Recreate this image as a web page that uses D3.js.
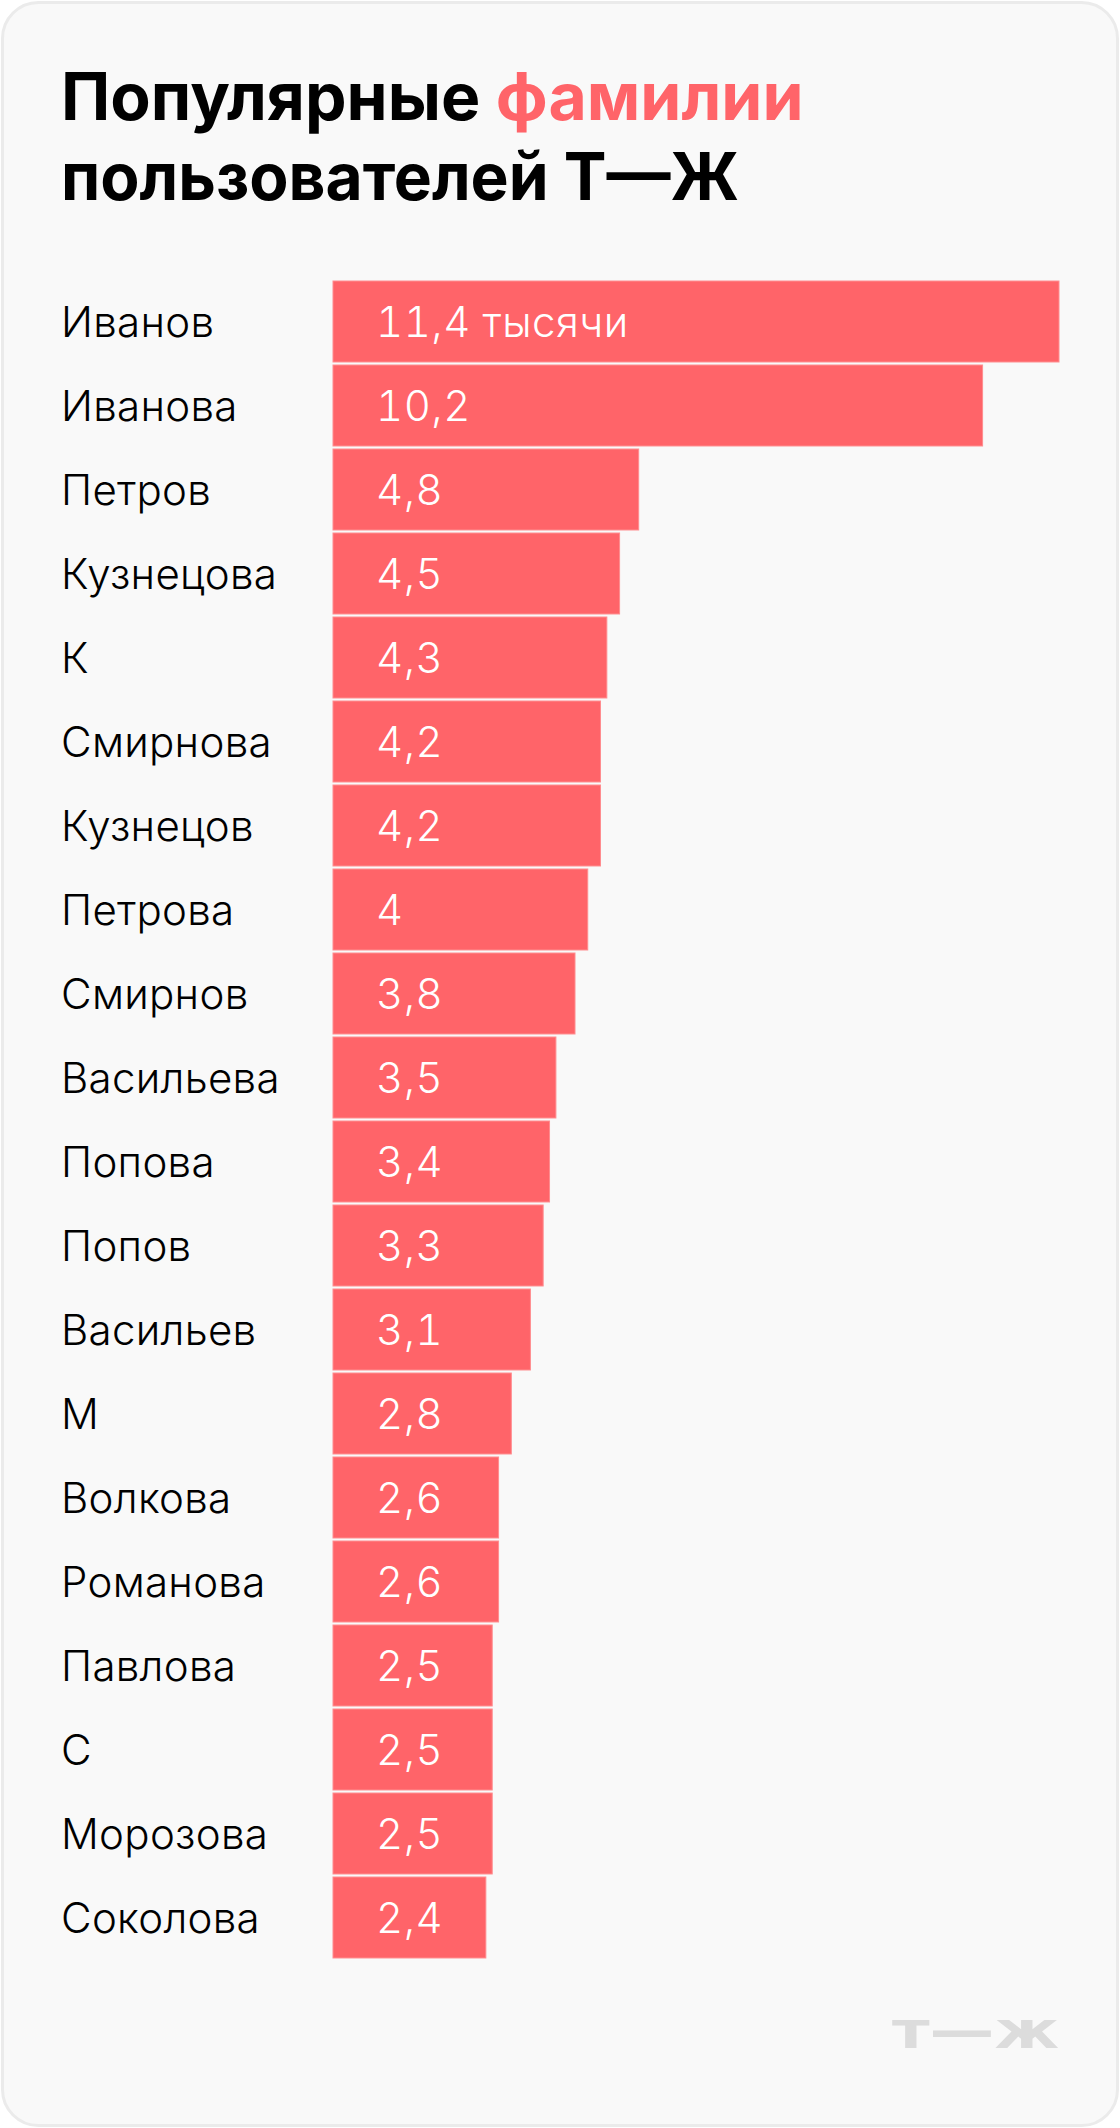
<!DOCTYPE html>
<html><head><meta charset="utf-8">
<script src="https://cdn.jsdelivr.net/npm/d3@7"></script>
<style>html,body{margin:0;padding:0;background:#fff;}</style>
</head><body>
<svg id="c" width="1120" height="2128"></svg>
<script>
const names = ["Иванов","Иванова","Петров","Кузнецова","К","Смирнова","Кузнецов","Петрова","Смирнов","Васильева","Попова","Попов","Васильев","М","Волкова","Романова","Павлова","С","Морозова","Соколова"];
const values = [11.4,10.2,4.8,4.5,4.3,4.2,4.2,4,3.8,3.5,3.4,3.3,3.1,2.8,2.6,2.6,2.5,2.5,2.5,2.4];
const valueLabels = ["11,4 тысячи","10,2","4,8","4,5","4,3","4,2","4,2","4","3,8","3,5","3,4","3,3","3,1","2,8","2,6","2,6","2,5","2,5","2,5","2,4"];
const titleParts = [["Популярные ","#000"],["фамилии","#ff6469"]];
const titleLine2 = "пользователей Т—Ж";
const logoText = "т—ж";

const svg = d3.select("#c");
svg.append("rect").attr("x",2.5).attr("y",2.5).attr("width",1115).attr("height",2123)
  .attr("rx",36).attr("fill","#f9f9f9").attr("stroke","#ebebeb").attr("stroke-width",3);

const tf = "Inter, Roboto, 'DejaVu Sans', sans-serif";
const t1 = svg.append("text").attr("x",61).attr("y",120).attr("font-family",tf).attr("font-weight",700).attr("font-size",66);
titleParts.forEach(p=>t1.append("tspan").attr("fill",p[1]).text(p[0]));
svg.append("text").attr("x",61).attr("y",200).attr("font-family",tf).attr("font-weight",700).attr("font-size",66).attr("fill","#000")
  .attr("textLength",678).attr("lengthAdjust","spacingAndGlyphs").text(titleLine2);

const y = d3.scaleBand().domain(names).range([279.5, 1959.5]).paddingInner(0.036).paddingOuter(0.018);
const x = d3.scaleLinear().domain([0, 11.4]).range([333, 1059]);

const lf = "Inter, Roboto, sans-serif";
const g = svg.append("g");
g.selectAll("rect.bar").data(names).join("rect").attr("class","bar")
  .attr("x",x(0)).attr("y",d=>y(d)).attr("width",(d,i)=>x(values[i])-x(0)).attr("height",y.bandwidth())
  .attr("fill","#ff6469").attr("stroke","#ff8c8f").attr("stroke-width",1);
g.selectAll("text.name").data(names).join("text").attr("class","name")
  .attr("x",61).attr("y",d=>y(d)+y.bandwidth()/2+15).attr("font-family",lf).attr("font-weight",300).attr("font-size",42)
  .attr("letter-spacing",0.3).attr("fill","#000").text(d=>d);
g.selectAll("text.val").data(valueLabels).join("text").attr("class","val")
  .attr("x",x(0)+43).attr("y",(d,i)=>y(names[i])+y.bandwidth()/2+15).attr("font-family",lf).attr("font-weight",300).attr("font-size",42)
  .style("font-feature-settings","'tnum'").attr("letter-spacing",0.5).attr("fill","#fff").text(d=>d);

svg.append("text").attr("x",892).attr("y",2048).attr("font-family","'DejaVu Sans', sans-serif").attr("font-weight",700)
  .attr("font-size",52).attr("fill","#dcdcdc").attr("textLength",167).attr("lengthAdjust","spacingAndGlyphs").text(logoText);
</script>
</body></html>
